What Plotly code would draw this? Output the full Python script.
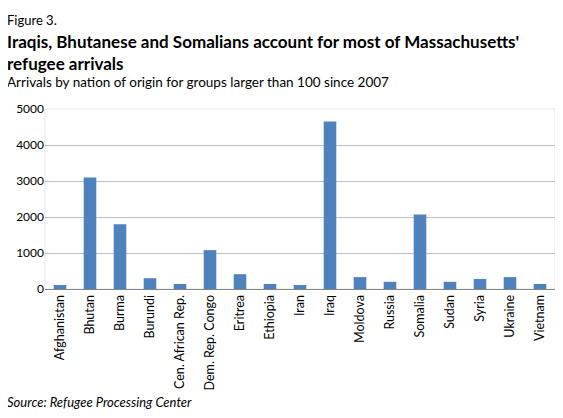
import plotly.graph_objects as go

# arrivals by nation of origin
countries = ['Afghanistan', 'Bhutan', 'Burma', 'Burundi', 'Cen. African Rep.',
             'Dem. Rep. Congo', 'Eritrea', 'Ethiopia', 'Iran', 'Iraq', 'Moldova',
             'Russia', 'Somalia', 'Sudan', 'Syria', 'Ukraine', 'Vietnam']
arrivals = [110, 3100, 1800, 300, 140, 1080, 410, 140, 110, 4650, 330,
            200, 2070, 200, 280, 330, 140]
y_ticks = [0, 1000, 2000, 3000, 4000, 5000]

FONT = 'Lato'

# page body has an 8px margin, so figure is a bit smaller than the window
fig = go.Figure()
fig.add_trace(go.Bar(x=countries, y=arrivals, marker_color='#4F81BD',
                     marker_line_width=0))

fig.update_layout(
    width=555, height=410,
    margin=dict(l=37, r=8, t=101, b=129),
    paper_bgcolor='white', plot_bgcolor='white',
    bargap=0.58,
    showlegend=False,
    font=dict(family=FONT, size=12, color='#000000'),
)
fig.update_yaxes(range=[0, 5000], tickvals=y_ticks, showgrid=True,
                 gridcolor='#BFBFBF', gridwidth=1, zeroline=False,
                 showline=False, ticks='', tickfont=dict(size=12))
fig.update_xaxes(tickangle=-90, showline=True, linecolor='#868686',
                 linewidth=1, ticks='', tickfont=dict(size=12.5))

# light frame around the plot area
fig.add_shape(type='rect', xref='paper', yref='paper', x0=0, x1=1, y0=0, y1=1,
              line=dict(color='#E6E6E6', width=1), layer='below')

# title block
left = -40/510
fig.add_annotation(text='Figure 3.', xref='paper', yref='paper',
                   x=left, y=269/180, xanchor='left', yanchor='middle',
                   showarrow=False, font=dict(family=FONT, size=13))
fig.add_annotation(text="<b>Iraqis, Bhutanese and Somalians account for most of Massachusetts'<br>refugee arrivals</b>",
                   xref='paper', yref='paper', align='left',
                   x=left, y=236.5/180, xanchor='left', yanchor='middle',
                   showarrow=False, font=dict(family=FONT, size=17))
fig.add_annotation(text='Arrivals by nation of origin for groups larger than 100 since 2007',
                   xref='paper', yref='paper',
                   x=left, y=207/180, xanchor='left', yanchor='middle',
                   showarrow=False, font=dict(family=FONT, size=13.5))
fig.add_annotation(text='<i>Source: Refugee Processing Center</i>',
                   xref='paper', yref='paper',
                   x=left, y=-113/180, xanchor='left', yanchor='middle',
                   showarrow=False, font=dict(family=FONT, size=13))

fig.write_html("out.html")
